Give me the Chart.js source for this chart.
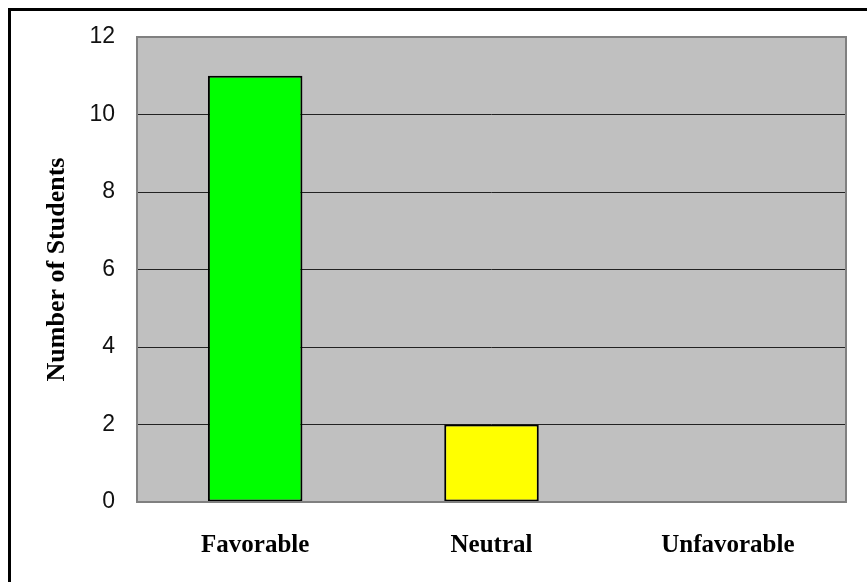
<!DOCTYPE html>
<html>
<head>
<meta charset="utf-8">
<script src="https://cdn.jsdelivr.net/npm/chart.js@4"></script>
<style>
    html, body { margin: 0; padding: 0; background: #fff; }
    #wrap { position: relative; width: 867px; height: 582px; }
    #frame {
        position: absolute; left: 8px; top: 8px; right: 0; bottom: 0;
        border-left: 3px solid #000; border-top: 3px solid #000;
        pointer-events: none;
    }
</style>
</head>
<body>
<div id="wrap">
    <canvas id="surveyChart" width="867" height="582"></canvas>
    <div id="frame"></div>
</div>
<script>
// ============================================
// DATA
// ============================================
const categories = ['Favorable', 'Neutral', 'Unfavorable'];
const studentCounts = [11, 2, 0];
const barColors = ['#00ff00', '#ffff00', '#ffff00'];
const yTicks = [0, 2, 4, 6, 8, 10, 12];

// gray plot background + darker frame
const plotAreaPlugin = {
    id: 'plotArea',
    beforeDraw(chart) {
        const { ctx, chartArea: a } = chart;
        ctx.save();
        ctx.fillStyle = '#c0c0c0';
        ctx.fillRect(a.left, a.top, a.right - a.left, a.bottom - a.top);
        ctx.restore();
    },
    afterDraw(chart) {
        const { ctx, chartArea: a } = chart;
        ctx.save();
        ctx.strokeStyle = '#808080';
        ctx.lineWidth = 2;
        ctx.strokeRect(a.left, a.top, a.right - a.left, a.bottom - a.top);
        ctx.restore();
    }
};

const ctx = document.getElementById('surveyChart');
const surveyChart = new Chart(ctx.getContext('2d'), {
    type: 'bar',
    data: {
        labels: categories,
        datasets: [{
            label: 'Number of Students',
            data: studentCounts,
            backgroundColor: barColors,
            borderColor: '#000',
            borderWidth: 2,
            borderSkipped: false,
            barPercentage: 0.4,
            categoryPercentage: 1
        }]
    },
    options: {
        responsive: false,
        animation: false,
        layout: { padding: { top: 37, right: 21, left: 42, bottom: 0 } },
        plugins: {
            legend: { display: false },
            tooltip: { enabled: false }
        },
        scales: {
            x: {
                grid: { display: false, drawTicks: false },
                border: { display: false },
                ticks: {
                    padding: 29,
                    color: '#000',
                    font: { family: '"Liberation Serif", "Times New Roman", serif', size: 25, weight: 'bold' }
                },
                afterFit(scale) { scale.height = 80; }
            },
            y: {
                min: 0,
                max: 12,
                afterBuildTicks(scale) { scale.ticks = yTicks.map(v => ({ value: v })); },
                grid: { color: '#222', lineWidth: 1, drawTicks: false },
                border: { display: false },
                ticks: {
                    padding: 22,
                    color: '#111',
                    font: { family: '"Liberation Sans", Arial, sans-serif', size: 23 }
                },
                title: {
                    display: true,
                    text: 'Number of Students',
                    color: '#000',
                    padding: { top: 0, bottom: 0 },
                    font: { family: '"Liberation Serif", "Times New Roman", serif', size: 26, weight: 'bold' }
                },
                afterFit(scale) { scale.width = 137 - 42; }
            }
        }
    },
    plugins: [plotAreaPlugin]
});
</script>
</body>
</html>
